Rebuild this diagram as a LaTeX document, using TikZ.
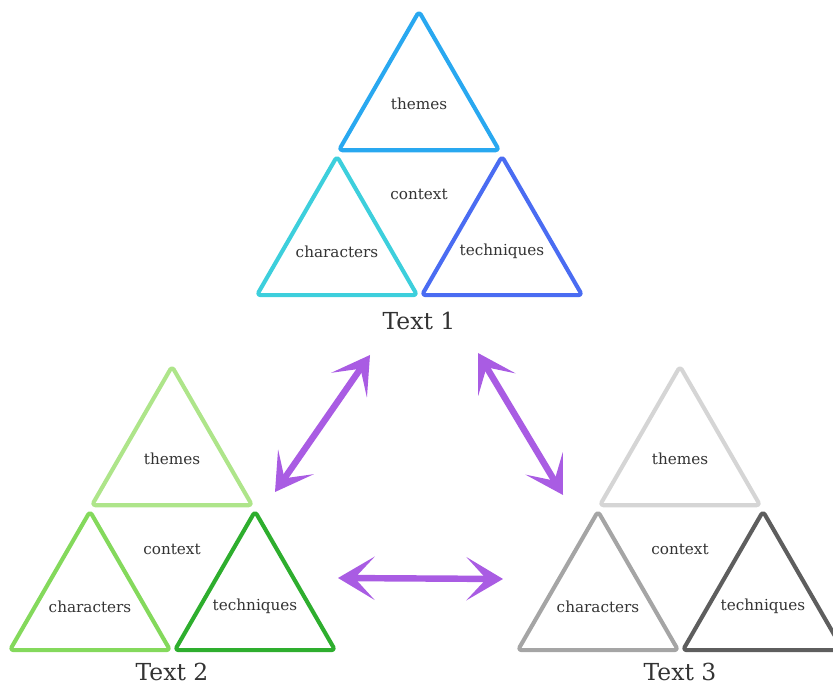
\documentclass[tikz,border=0pt]{standalone}
\usepackage{fontspec}
\setmainfont{DejaVu Serif}
\usepackage{tikz}
\usetikzlibrary{shapes, arrows.meta}

\definecolor{themesBlue}{HTML}{29A8F0}
\definecolor{charactersBlue}{HTML}{3DCFDC}
\definecolor{techniquesBlue}{HTML}{4A6CF2}
\definecolor{themesGreen}{HTML}{AEE58A}
\definecolor{charactersGreen}{HTML}{84D95C}
\definecolor{techniquesGreen}{HTML}{2EAE2E}
\definecolor{themesGray}{HTML}{D5D5D5}
\definecolor{charactersGray}{HTML}{A5A5A5}
\definecolor{techniquesGray}{HTML}{5E5E5E}
\definecolor{arrowPurple}{HTML}{A95CE3}
\definecolor{labelGray}{HTML}{333333}

\begin{document}
\begin{tikzpicture}[
    tri/.style={regular polygon, regular polygon sides=3, minimum size=5.55cm, inner sep=0pt,
        line width=3.5pt, rounded corners=3pt, line join=round},
    lowLeft/.style={anchor=corner 1, xshift=0.05cm, yshift=0cm},
    lowRight/.style={anchor=corner 1, xshift=-0.02cm, yshift=0cm},
    word/.style={text=labelGray, font=\fontsize{13}{15}\selectfont},
    context/.style={word, yshift=-1.26cm},
    title/.style={text=labelGray, font=\fontsize{20}{22}\selectfont, inner sep=0pt, yshift=-5.05cm},
    twoWay/.style={{Stealth[length=1.1cm, width=1.3cm, inset=0.6cm]}-{Stealth[length=1.1cm, width=1.3cm, inset=0.6cm]},
        line width=5.5pt, arrowPurple},
    every node/.style={
        text centered,
        }
        ]
    \useasboundingbox (0, 0) rectangle (24.99, 20.58);

    % Text 1
    \node[tri, draw=themesBlue] (themes1) at (12.57, 17.46) {};
    \node[tri, draw=charactersBlue, lowLeft] (characters1) at (themes1.corner 2) {};
    \node[tri, draw=techniquesBlue, lowRight] (techniques1) at (themes1.corner 3) {};
    \node[word] (themesText1) at (themes1) {themes};
    \node[word, yshift=-0.08cm] (charactersText1) at (characters1) {characters};
    \node[word, yshift=-0.08cm] (techniquesText1) at (techniques1) {techniques};
    \node[context] (context1) at (themes1.south) {context};
    \node[title] (text1) at (themes1.south) {Text 1};

    % Text 2
    \node[tri, draw=themesGreen] (themes2) at (5.16, 6.81) {};
    \node[tri, draw=charactersGreen, lowLeft] (characters2) at (themes2.corner 2) {};
    \node[tri, draw=techniquesGreen, lowRight] (techniques2) at (themes2.corner 3) {};
    \node[word] (themesText2) at (themes2) {themes};
    \node[word, yshift=-0.08cm] (charactersText2) at (characters2) {characters};
    \node[word, yshift=-0.08cm] (techniquesText2) at (techniques2) {techniques};
    \node[context] (context2) at (themes2.south) {context};
    \node[title, yshift=0.1cm] (text2) at (themes2.south) {Text 2};

    % Text 3
    \node[tri, draw=themesGray] (themes3) at (20.4, 6.81) {};
    \node[tri, draw=charactersGray, lowLeft] (characters3) at (themes3.corner 2) {};
    \node[tri, draw=techniquesGray, lowRight] (techniques3) at (themes3.corner 3) {};
    \node[word] (themesText3) at (themes3) {themes};
    \node[word, yshift=-0.08cm] (charactersText3) at (characters3) {characters};
    \node[word, yshift=-0.08cm] (techniquesText3) at (techniques3) {techniques};
    \node[context] (context3) at (themes3.south) {context};
    \node[title, yshift=0.1cm] (text3) at (themes3.south) {Text 3};

    \coordinate (oneToTwo) at (11.10, 9.93);
    \coordinate (twoToOne) at (8.25, 5.82);
    \coordinate (oneToThree) at (14.34, 9.99);
    \coordinate (threeToOne) at (16.89, 5.73);
    \coordinate (twoToThree) at (10.14, 3.24);
    \coordinate (threeToTwo) at (15.09, 3.21);

    \draw[twoWay] (oneToTwo) -- (twoToOne);
    \draw[twoWay] (oneToThree) -- (threeToOne);
    \draw[twoWay] (twoToThree) -- (threeToTwo);
\end{tikzpicture}
\end{document}
